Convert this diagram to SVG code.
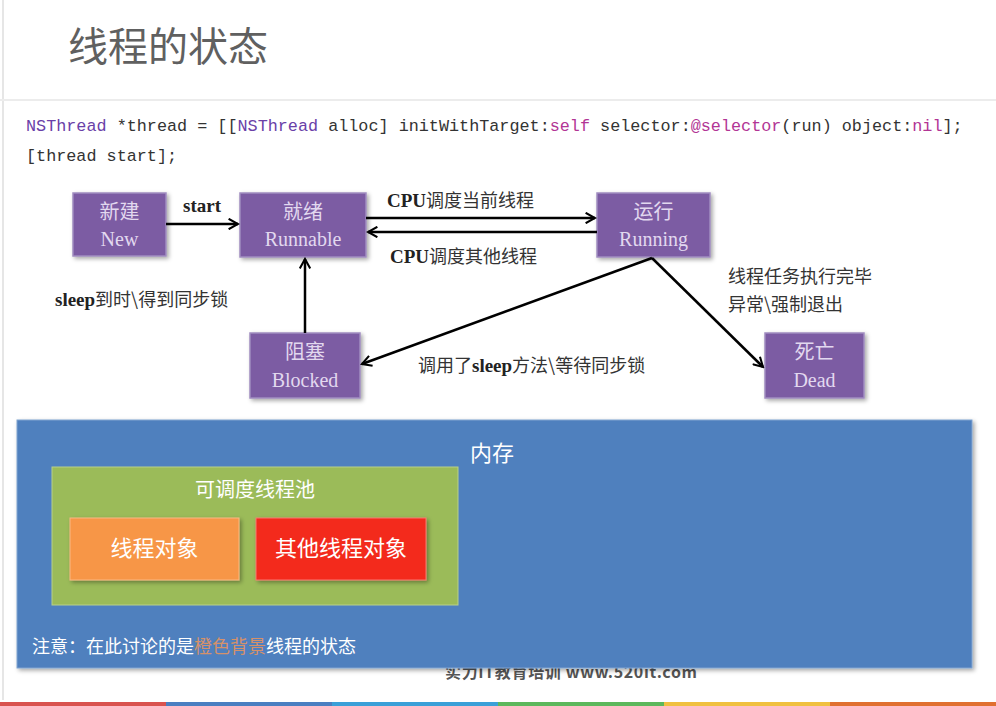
<svg xmlns="http://www.w3.org/2000/svg" width="996" height="706" viewBox="0 0 996 706">
<defs>
<style>
.node rect{fill:#7b5ca3;stroke:#a08cc0;stroke-width:1.5}
.ntxt{font-family:"Liberation Serif","Noto Sans CJK SC",serif;font-size:20px;fill:#e2d8ef;text-anchor:middle}
.lbl{font-family:"Liberation Serif","Noto Sans CJK SC",serif;font-size:19px;fill:#222;font-weight:bold}
.lblc{font-family:"Noto Sans CJK SC",sans-serif;font-size:18px;fill:#333;font-weight:normal}
.code{font-family:"Liberation Mono",monospace;font-size:16.8px;fill:#333}
.cls{fill:#6a3fa8}
.kw{fill:#b23595}
.conn line{stroke:#000;stroke-width:2.5;marker-end:url(#ah)}
.wt{font-family:"Noto Sans CJK SC",serif;fill:#fff}
</style>
<marker id="ah" viewBox="0 0 12 12" refX="10" refY="6" markerWidth="5" markerHeight="5" orient="auto" markerUnits="strokeWidth">
<path d="M1,1 L10,6 L1,11" fill="none" stroke="#000" stroke-width="2"/>
</marker>
<filter id="sh" x="-10%" y="-10%" width="130%" height="130%">
<feDropShadow dx="2" dy="2" stdDeviation="2" flood-color="#000" flood-opacity="0.35"/>
</filter>
</defs>
<rect width="996" height="706" fill="#fff"/>
<line x1="3" y1="0" x2="3" y2="700" stroke="#e6e6e6" stroke-width="2"/>
<line x1="0" y1="100" x2="996" y2="100" stroke="#ececec" stroke-width="2"/>
<text x="68" y="61" font-family="Noto Sans CJK SC,sans-serif" font-size="40" fill="#606060">线程的状态</text>

<text class="code" x="26" y="131"><tspan class="cls">NSThread</tspan> *thread = [[<tspan class="cls">NSThread</tspan> alloc] initWithTarget:<tspan class="kw">self</tspan> selector:<tspan class="kw">@selector</tspan>(run) object:<tspan class="kw">nil</tspan>];</text>
<text class="code" x="26" y="161">[thread start];</text>

<g id="new" class="node"><rect x="73" y="193" width="93" height="63" filter="url(#sh)"/><text class="ntxt" x="119.5" y="219">新建</text><text class="ntxt" x="119.5" y="246">New</text></g>
<g id="runnable" class="node"><rect x="240" y="193" width="126" height="64" filter="url(#sh)"/><text class="ntxt" x="303" y="219">就绪</text><text class="ntxt" x="303" y="246">Runnable</text></g>
<g id="running" class="node"><rect x="597" y="193" width="113" height="64" filter="url(#sh)"/><text class="ntxt" x="653.5" y="219">运行</text><text class="ntxt" x="653.5" y="246">Running</text></g>
<g id="blocked" class="node"><rect x="250" y="333" width="110" height="65" filter="url(#sh)"/><text class="ntxt" x="305" y="359">阻塞</text><text class="ntxt" x="305" y="387">Blocked</text></g>
<g id="dead" class="node"><rect x="765" y="333" width="99" height="65" filter="url(#sh)"/><text class="ntxt" x="814.5" y="359">死亡</text><text class="ntxt" x="814.5" y="387">Dead</text></g>

<g id="connectors" class="conn">
<line x1="166" y1="224" x2="238" y2="224"/>
<line x1="366" y1="218" x2="595" y2="218"/>
<line x1="597" y1="232" x2="368" y2="232"/>
<line x1="305" y1="333" x2="305" y2="259"/>
<line x1="652" y1="258" x2="362" y2="364"/>
<line x1="652" y1="258" x2="763" y2="367"/>
</g>

<text class="lbl" x="183" y="212" font-family="Liberation Sans,sans-serif">start</text>
<text class="lbl" x="387" y="207">CPU<tspan class="lblc">调度</tspan><tspan class="lblc" fill="#d9342b">当前</tspan><tspan class="lblc">线程</tspan></text>
<text class="lbl" x="390" y="263">CPU<tspan class="lblc">调度</tspan><tspan class="lblc" fill="#d9342b">其他</tspan><tspan class="lblc">线程</tspan></text>
<text class="lbl" x="55" y="306">sleep<tspan class="lblc">到时\得到同步锁</tspan></text>
<text class="lblc" x="728" y="283">线程任务执行完毕</text>
<text class="lblc" x="728" y="311">异常\强制退出</text>
<text class="lblc" x="418" y="372">调用了<tspan class="lbl">sleep</tspan>方法\等待同步锁</text>

<text x="445" y="678" font-family="Noto Sans CJK SC,sans-serif" font-size="16" font-weight="bold" fill="#555" textLength="252">实力IT教育培训 www.520it.com</text>

<g id="memory">
<rect x="17" y="420" width="955" height="248" fill="#5080be" stroke="#7fa3d0" stroke-width="1" filter="url(#sh)"/>
<text class="wt" x="470" y="461" font-size="22">内存</text>
</g>
<g id="pool">
<rect x="52" y="467" width="406" height="138" fill="#9bbb59" stroke="#b8d08a" stroke-width="1"/>
<text class="wt" x="255" y="497" font-size="20" text-anchor="middle">可调度线程池</text>
</g>
<g id="thread-obj">
<rect x="70" y="518" width="169" height="62" fill="#f79646" stroke="#fab885" filter="url(#sh)"/>
<text class="wt" x="154.5" y="556" font-size="22" text-anchor="middle" fill="#fde8d8">线程对象</text>
</g>
<g id="other-obj">
<rect x="256" y="518" width="170" height="62" fill="#f3291c" stroke="#f77a70" filter="url(#sh)"/>
<text class="wt" x="341" y="556" font-size="22" text-anchor="middle">其他线程对象</text>
</g>
<text class="wt" x="32" y="653" font-size="18">注意：在此讨论的是<tspan fill="#d5916a">橙色背景</tspan>线程的状态</text>

<rect x="0" y="702" width="166" height="4" fill="#d9534f"/>
<rect x="166" y="702" width="166" height="4" fill="#4a7fc1"/>
<rect x="332" y="702" width="166" height="4" fill="#3aa0d8"/>
<rect x="498" y="702" width="166" height="4" fill="#5cb85c"/>
<rect x="664" y="702" width="166" height="4" fill="#f0c040"/>
<rect x="830" y="702" width="166" height="4" fill="#e07030"/>
</svg>
